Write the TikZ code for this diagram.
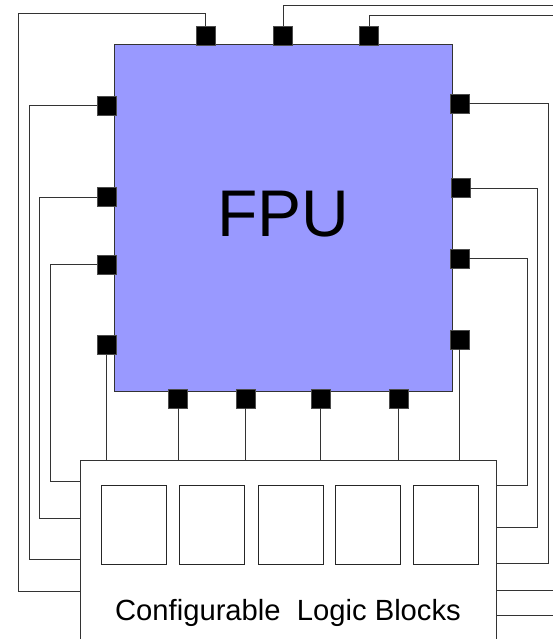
\documentclass[tikz,border=0pt]{standalone}
\usepackage{fontspec}
\setmainfont{Liberation Sans}
\begin{document}
\begin{tikzpicture}[x=1pt,y=-1pt,
  wire/.style={draw=black!80,line width=1pt},
  pad/.style={rectangle,fill=black,draw=black!70,line width=0.6pt,minimum size=19pt,inner sep=0pt},
  clbcell/.style={rectangle,draw=black!85,line width=1pt,minimum width=65pt,minimum height=79pt,inner sep=0pt},
  fpubox/.style={rectangle,fill={rgb,255:red,153;green,153;blue,255},draw=black!80,line width=1pt,minimum width=338pt,minimum height=346pt,inner sep=0pt},
  clbbox/.style={rectangle,fill=white,draw=black!80,line width=1pt,minimum width=416pt,minimum height=190pt,inner sep=0pt}]
\useasboundingbox (0,0) rectangle (552,639);
\fill[white] (0,0) rectangle (552,639);
% main blocks
\node[fpubox] (fpu) at (283,218) {};
\node (fpulabel) at (283,214) {\fontsize{66}{70}\selectfont FPU};
\node[clbbox] (clb) at (288,555) {};
% CLB cells
\node[clbcell] (c1) at (133.5,525) {};
\node[clbcell] (c2) at (211.5,525) {};
\node[clbcell] (c3) at (290.5,525) {};
\node[clbcell] (c4) at (367.5,525) {};
\node[clbcell] (c5) at (445.5,525) {};
\node[anchor=base] (clblabel) at (288,620.5) {\fontsize{29.2}{33}\selectfont Configurable\ \ Logic Blocks};
% pads top
\node[pad] (t1) at (205.5,35.5) {};
\node[pad] (t2) at (283,35.5) {};
\node[pad] (t3) at (369,35.5) {};
% pads left
\node[pad] (l1) at (106.5,106) {};
\node[pad] (l2) at (106.5,197) {};
\node[pad] (l3) at (106.5,264.5) {};
\node[pad] (l4) at (106.5,345) {};
% pads right
\node[pad] (r1) at (459.5,104) {};
\node[pad] (r2) at (460.5,188) {};
\node[pad] (r3) at (459.5,258.5) {};
\node[pad] (r4) at (459.5,339.5) {};
% pads bottom
\node[pad] (b1) at (178,398.5) {};
\node[pad] (b2) at (245.5,398.5) {};
\node[pad] (b3) at (320.5,398.5) {};
\node[pad] (b4) at (398.5,398.5) {};
% free ends at picture edge
\coordinate (e2) at (553,6);
\coordinate (e3) at (553,16);
\coordinate (f2) at (553,590);
\coordinate (f3) at (553,615);
% top wires
\draw[wire] (t1.north) -- (205.5,14) -- (18.5,14) -- (18.5,591) -- (clb.west |- 0,591);
\draw[wire] (t2.north) -- (283,6) -- (e2);
\draw[wire] (t3.north) -- (369,16) -- (e3);
\draw[wire] (clb.east |- f2) -- (f2);
\draw[wire] (clb.east |- f3) -- (f3);
% left wires
\draw[wire] (l1.west) -- (29,106) -- (29,559) -- (clb.west |- 0,559);
\draw[wire] (l2.west) -- (39.5,197) -- (39.5,518) -- (clb.west |- 0,518);
\draw[wire] (l3.west) -- (50,264.5) -- (50,481) -- (clb.west |- 0,481);
\draw[wire] (l4.south) -- (l4.south |- clb.north);
% right wires
\draw[wire] (r1.east) -- (548,104) -- (548,563) -- (clb.east |- 0,563);
\draw[wire] (r2.east) -- (537,188) -- (537,527) -- (clb.east |- 0,527);
\draw[wire] (r3.east) -- (527,258.5) -- (527,485) -- (clb.east |- 0,485);
\draw[wire] (r4.south) -- (r4.south |- clb.north);
% bottom wires
\draw[wire] (b1.south) -- (b1.south |- clb.north);
\draw[wire] (b2.south) -- (b2.south |- clb.north);
\draw[wire] (b3.south) -- (b3.south |- clb.north);
\draw[wire] (b4.south) -- (b4.south |- clb.north);
\end{tikzpicture}
\end{document}
